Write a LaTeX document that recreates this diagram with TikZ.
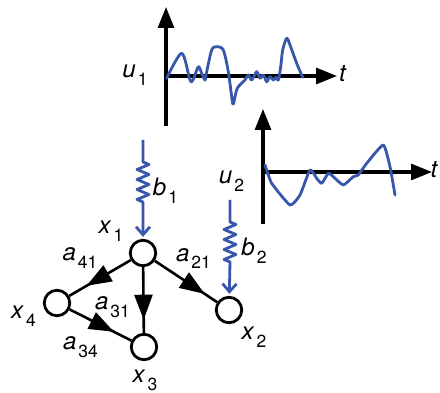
\documentclass[tikz,border=0pt]{standalone}
\usepackage{fontspec}
\setmainfont{TeX Gyre Heros}
\usetikzlibrary{arrows.meta,decorations.markings,decorations.pathmorphing}
\definecolor{sigblue}{RGB}{56,86,170}
\newcommand\vlab[2]{\textit{#1}\kern2pt\raisebox{-0.33em}{\fontsize{17.5}{17.5}\selectfont #2}}
\begin{document}
\begin{tikzpicture}[x=1pt,y=-1pt,
  vnode/.style={circle,draw,line width=2.8pt,minimum size=25.5pt,inner sep=0pt},
  edge/.style={line width=2.6pt,postaction={decorate},
    decoration={markings,mark=at position #1 with {\arrow{Triangle[length=25pt,width=18pt]}}}},
  axis/.style={line width=3.1pt,-{Triangle[length=21pt,width=16pt]}},
  sig/.style={sigblue,line width=2.8pt,line join=round,line cap=round},
  input/.style={sigblue,line width=2.8pt,line join=round,shorten >=2pt,
    -{Straight Barb[length=8pt,width=14pt]}},
  wiggle/.style={decoration={zigzag,segment length=10pt,amplitude=6pt}},
  lbl/.style={font=\fontsize{24}{24}\selectfont,inner sep=0pt}]
\useasboundingbox (0,0) rectangle (440,393);
% top plot
\coordinate (o1) at (166,76);
\draw[axis] (166,126) -- (166,7);
\draw[axis] (o1) -- (337,76);
\node[lbl] (t1) at (343,73.5) {\textit{t}};
\node[lbl] (u1) at (135,75) {\vlab{u}{1}};
\draw[sig] plot[smooth,tension=0.5] coordinates {(166.7,78.3) (181.7,53.3) (190,80) (193.3,79.3) (198.3,66.7) (201.7,73.3) (205,80) (206.7,71.7) (211.7,50) (216.7,46.7) (223.3,50) (228.3,71.7) (231.7,96.7) (233.3,104) (237.3,88.3) (245,80) (248.3,75) (251.7,80) (256.7,71.7) (260,78.3) (263.3,75) (266.7,81.7) (270,76.7) (273.3,80) (276,77.3) (278.3,80) (280.7,66.7) (282.7,50) (286.7,38.3) (290,45) (296.7,63.3) (302.7,77.3)};
% second plot
\coordinate (o2) at (263,172);
\draw[axis] (263,224) -- (263,109);
\draw[axis] (o2) -- (432,172);
\node[lbl] (t2) at (434.5,170) {\textit{t}};
\node[lbl] (u2) at (231.5,181) {\vlab{u}{2}};
\draw[sig] plot[smooth,tension=0.3] coordinates {(265,165) (271.7,183.3) (290,205) (300,195) (310,170) (316.7,178.3) (321.7,183.3) (328.3,173.3) (333.3,176.7) (343.3,185) (353.3,176.7) (358.3,175) (366.7,163.3) (383.3,145) (390,166.7) (395,195)};
% graph
\node[vnode] (x1) at (143,253) {};
\node[vnode] (x2) at (229,310) {};
\node[vnode] (x3) at (144,347) {};
\node[vnode] (x4) at (57,303) {};
\node[lbl] (lx1) at (111,231) {\vlab{x}{1}};
\node[lbl] (lx2) at (254,337) {\vlab{x}{2}};
\node[lbl] (lx3) at (145,380) {\vlab{x}{3}};
\node[lbl] (lx4) at (23.5,316) {\vlab{x}{4}};
\draw[edge=0.72] (x1) -- (x4);
\draw[edge=0.8] (x1) -- (x3);
\draw[edge=0.8] (x1) -- (x2);
\draw[edge=0.72] (x4) -- (x3);
\node[lbl] (a41) at (80,258) {\vlab{a}{41}};
\node[lbl] (a21) at (193.5,258.5) {\vlab{a}{21}};
\node[lbl] (a31) at (112.5,307.5) {\vlab{a}{31}};
\node[lbl] (a34) at (80.5,347) {\vlab{a}{34}};
% inputs
\coordinate (b1top) at (143,140);
\coordinate (b2top) at (230,200);
\draw[input] (b1top) -- ++(0,22) decorate[wiggle]{-- ++(0,40)} -- (x1);
\draw[input] (b2top) -- ++(0,22) decorate[wiggle]{-- ++(0,40)} -- (x2);
\node[lbl] (lb1) at (165.5,191) {\vlab{b}{1}};
\node[lbl] (lb2) at (254,251) {\vlab{b}{2}};
\end{tikzpicture}
\end{document}
